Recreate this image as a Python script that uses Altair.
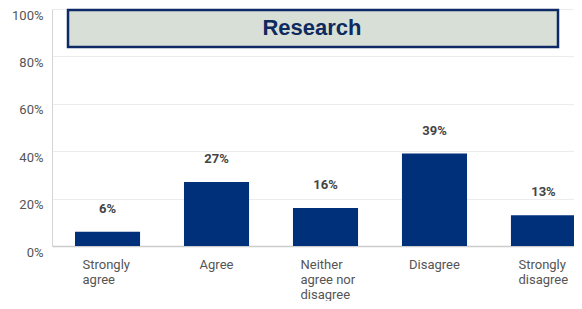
import altair as alt
import pandas as pd

categories = ["Strongly agree", "Agree", "Neither agree nor disagree", "Disagree", "Strongly disagree"]
label_lines = [["Strongly", "agree"], ["Agree"], ["Neither", "agree nor", "disagree"], ["Disagree"], ["Strongly", "disagree"]]
values = [6, 27, 16, 39, 13]
value_labels = ["6%", "27%", "16%", "39%", "13%"]
title_text = "Research"
y_ticks = [0, 10, 20, 30, 40, 50, 60, 70, 80, 90, 100]

df = pd.DataFrame({"cat": categories, "val": values, "lab": value_labels})

# label expression: multi-line labels
parts = []
for c, lines in zip(categories, label_lines):
    arr = "[" + ",".join("'" + l + "'" for l in lines) + "]"
    parts.append(f"datum.value == '{c}' ? {arr} : ")
label_expr = "".join(parts) + "datum.label"

navy = "#00307a"
font = "Roboto"
multi_test = "indexof(datum.value, ' ') > 0"

x_enc = alt.X(
    "cat:N",
    sort=categories,
    title=None,
    scale=alt.Scale(range=[0, 547], paddingInner=0.403, paddingOuter=0.211),
    axis=alt.Axis(
        labelExpr=label_expr,
        labelAngle=0,
        labelAlign={"condition": {"test": multi_test, "value": "left"}, "value": "center"},
        labelOffset={"condition": {"test": multi_test, "value": -25}, "value": 0},
        labelBaseline="middle",
        labelPadding=18,
        labelLineHeight=15,
        labelFontSize=13,
        labelColor="#555555",
        labelFont=font,
        ticks=False,
        domainColor="#cccccc",
        domainWidth=1.5,
        grid=False,
    ),
)

y_enc = alt.Y(
    "val:Q",
    title=None,
    scale=alt.Scale(domain=[0, 100], nice=False),
    axis=alt.Axis(
        values=y_ticks,
        labelExpr="datum.value % 20 == 0 ? datum.value + '%' : ''",
        labelOffset=6,
        labelPadding=9,
        labelFontSize=13,
        labelColor="#555555",
        labelFont=font,
        ticks=False,
        domainColor="#d5d5d5",
        gridColor="#ececec",
        gridWidth=1,
    ),
)

base = alt.Chart(df)
bars = base.mark_bar(color=navy).encode(x=x_enc, y=y_enc)
texts = base.mark_text(dy=-23, fontSize=13, fontWeight="bold", color="#444444", font=font).encode(
    x=alt.X("cat:N", sort=categories), y="val:Q", text="lab:N"
)

tdf = pd.DataFrame({"t": [title_text]})
box = alt.Chart(tdf).mark_rect(
    fill="#d3dbd1", fillOpacity=0.9, stroke="#0d2a66", strokeWidth=2.5
).encode(x=alt.value(16), x2=alt.value(506), y=alt.value(1), y2=alt.value(38))
title = alt.Chart(tdf).mark_text(
    fontSize=22, fontWeight="bold", color="#0f2a5e", font="Liberation Sans", baseline="middle"
).encode(x=alt.value(260), y=alt.value(19), text="t:N")

chart = alt.layer(bars, texts, box, title).properties(
    width=522,
    height=237,
    autosize=alt.AutoSizeParams(type="none"),
    padding={"left": 44, "top": 1, "right": 0, "bottom": 55},
).configure_view(stroke=None)

chart.save("out.html", embed_options={"renderer": "svg", "actions": False})
